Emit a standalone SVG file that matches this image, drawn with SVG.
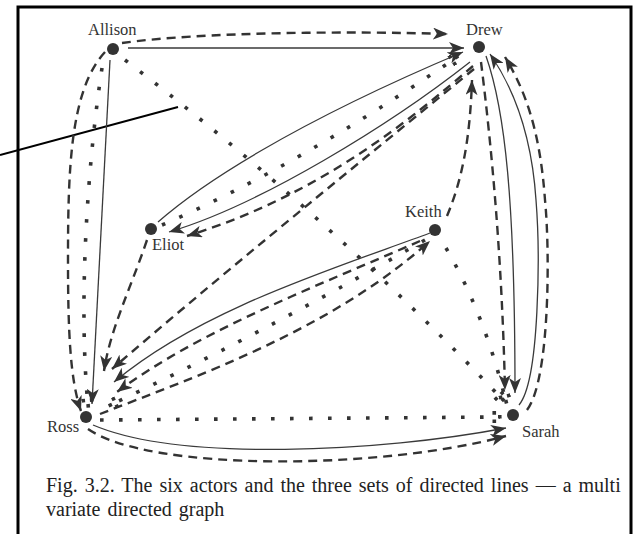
<svg xmlns="http://www.w3.org/2000/svg" width="637" height="534" viewBox="0 0 637 534">
<defs>
<style>
.solid{fill:none;stroke:#3a3a3a;stroke-width:1.3}
.dash{fill:none;stroke:#333;stroke-width:2.4;stroke-dasharray:9 6}
.dot{fill:none;stroke:#333;stroke-width:3.6;stroke-dasharray:3.6 15.4}
.node{fill:#333}
.lbl{font-family:"Liberation Serif","Times New Roman",serif;font-size:16.5px;fill:#333}
.cap{font-family:"Liberation Serif","Times New Roman",serif;font-size:20px;fill:#222;word-spacing:2px}
</style>
<marker id="ah" markerUnits="userSpaceOnUse" markerWidth="15" markerHeight="12" refX="15" refY="6" orient="auto" viewBox="0 0 15 12"><path d="M0,0 L15,6 L0,12 L4,6 z" fill="#333"/></marker>
<marker id="dh" markerUnits="userSpaceOnUse" markerWidth="12" markerHeight="12" refX="10" refY="6" orient="auto" viewBox="0 0 12 12"><rect x="8" y="4" width="3.6" height="3.6" fill="#333"/><rect x="2.5" y="0" width="3.6" height="3.6" fill="#333"/><rect x="2.5" y="8.4" width="3.6" height="3.6" fill="#333"/></marker>
</defs>
<rect x="0" y="0" width="637" height="534" fill="#fff"/>
<rect x="18" y="7" width="613" height="540" fill="none" stroke="#000" stroke-width="3"/>
<line x1="0" y1="155" x2="178" y2="107" stroke="#000" stroke-width="2"/>
<g id="connectors">
<path class="solid" marker-end="url(#ah)" d="M128,48 L464,48"/>
<path class="solid" marker-end="url(#ah)" d="M110,60 L92,404"/>
<path class="solid" marker-end="url(#ah)" d="M158,222 C200,185 290,125 463,52"/>
<path class="solid" marker-end="url(#ah)" d="M470,62 C390,125 260,205 169,232"/>
<path class="solid" marker-end="url(#ah)" d="M486,56 C505,110 515,200 515,393"/>
<path class="solid" marker-end="url(#ah)" d="M519,405 C540,380 540,250 536,200 C532,140 515,90 490,54"/>
<path class="solid" marker-end="url(#ah)" d="M430,233 C330,270 200,310 114,382"/>
<path class="solid" marker-end="url(#ah)" d="M93,425 C180,462 380,452 506,428"/>
<path class="dash" marker-end="url(#ah)" d="M122,43 C200,32 350,31 448,34"/>
<path class="dash" marker-end="url(#ah)" d="M105,52 C70,90 68,170 68,260 C68,330 70,380 81,411"/>
<path class="dash" marker-end="url(#ah)" d="M147,240 C130,290 110,330 104,371"/>
<path class="dash" marker-end="url(#ah)" d="M473,66 C410,120 320,195 187,236"/>
<path class="dash" marker-end="url(#ah)" d="M474,69 C400,130 250,250 112,369"/>
<path class="dash" marker-end="url(#ah)" d="M447,216 C462,180 470,140 472,80"/>
<path class="dash" marker-end="url(#ah)" d="M481,62 C492,150 502,260 505,390"/>
<path class="dash" marker-end="url(#ah)" d="M527,410 C550,380 550,250 545,200 C540,130 525,90 505,57"/>
<path class="dash" marker-end="url(#ah)" d="M420,241 C320,285 200,330 117,392"/>
<path class="dash" marker-end="url(#ah)" d="M100,414 C200,375 330,330 430,241"/>
<path class="dash" marker-end="url(#ah)" d="M88,429 C150,472 380,470 506,436"/>
<path class="dot" marker-end="url(#dh)" d="M125,60 Q327,214 503,400"/>
<path class="dot" marker-end="url(#dh)" d="M102,68 C88,160 78,300 88,406"/>
<path class="dot" marker-end="url(#dh)" d="M162,225 Q300,165 457,57"/>
<path class="dot" marker-end="url(#dh)" d="M425,240 Q250,340 110,405"/>
<path class="dot" marker-end="url(#dh)" d="M446,248 Q485,315 506,402"/>
<path class="dot" marker-end="url(#dh)" d="M100,420 L500,417"/>
</g>
<g id="allison"><circle class="node" cx="113" cy="49" r="6"/><text class="lbl" x="88" y="35">Allison</text></g>
<g id="drew"><circle class="node" cx="479" cy="47" r="6"/><text class="lbl" x="466" y="35">Drew</text></g>
<g id="eliot"><circle class="node" cx="151" cy="229" r="6"/><text class="lbl" x="152" y="250">Eliot</text></g>
<g id="keith"><circle class="node" cx="435" cy="230" r="6"/><text class="lbl" x="405" y="217">Keith</text></g>
<g id="ross"><circle class="node" cx="86" cy="417" r="6"/><text class="lbl" x="47" y="432">Ross</text></g>
<g id="sarah"><circle class="node" cx="513" cy="415" r="6"/><text class="lbl" x="522" y="437">Sarah</text></g>
<g id="caption">
<text class="cap" x="46" y="492">Fig. 3.2. The six actors and the three sets of directed lines — a multi</text>
<text class="cap" x="46" y="516">variate directed graph</text>
</g>
</svg>
